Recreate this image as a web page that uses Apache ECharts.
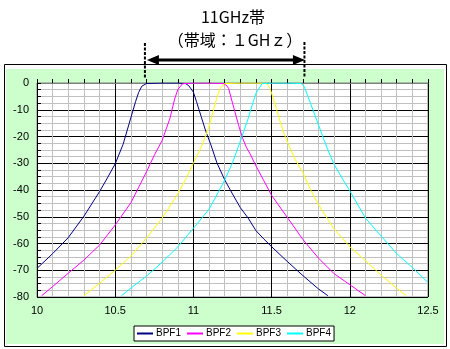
<!DOCTYPE html>
<html><head><meta charset="utf-8">
<script src="https://cdn.jsdelivr.net/npm/echarts@6/dist/echarts.min.js"></script>
<style>html,body{margin:0;padding:0;background:#fff}#c{width:450px;height:349px}</style>
</head><body><div id="c"></div>
<script>
// ---- data ----
const seriesNames = ['BPF1', 'BPF2', 'BPF3', 'BPF4'];
const bpf1 = [[10.0,-69.3],[10.1,-63.8],[10.2,-57.8],[10.3,-49.8],[10.4,-40.6],[10.45,-35.5],[10.5,-30.2],[10.55,-23],[10.6,-13],[10.63,-7],[10.65,-3.5],[10.67,-1.2],[10.7,-0.2],[10.8,0],[10.9,0],[10.95,-0.2],[10.97,-1],[11.0,-3.4],[11.02,-7],[11.05,-12.6],[11.08,-18.2],[11.11,-22.8],[11.15,-29.8],[11.2,-36.2],[11.25,-41.5],[11.3,-46.6],[11.35,-50.5],[11.4,-55.2],[11.45,-58.3],[11.5,-61.2],[11.6,-66.7],[11.7,-72],[11.8,-77],[11.86,-79.5]];
const bpf2 = [[10.03,-79.5],[10.1,-76.1],[10.2,-71.1],[10.3,-66.2],[10.4,-60.6],[10.5,-53.1],[10.6,-44.8],[10.65,-39],[10.7,-33.2],[10.75,-27],[10.8,-21.5],[10.85,-13.2],[10.88,-6],[10.9,-2.5],[10.93,-0.3],[11.0,0],[11.1,0],[11.19,-0.2],[11.21,-0.8],[11.225,-2],[11.245,-6.4],[11.265,-10.7],[11.29,-16],[11.315,-20.7],[11.34,-24.2],[11.36,-26.2],[11.4,-31],[11.45,-36.5],[11.5,-42],[11.6,-50.2],[11.7,-58.5],[11.8,-65.5],[11.9,-71.3],[12.0,-75.4],[12.1,-79.5]];
const bpf3 = [[10.3,-79.5],[10.4,-74.9],[10.5,-70],[10.6,-64.7],[10.7,-58],[10.8,-50.5],[10.9,-41.5],[10.95,-36],[11.0,-30],[11.05,-24],[11.1,-16.3],[11.15,-5.5],[11.17,-2],[11.2,-0.2],[11.3,0],[11.4,0],[11.47,-0.2],[11.49,-2],[11.51,-5.7],[11.53,-9.5],[11.555,-14.5],[11.58,-19],[11.6,-22],[11.65,-28.5],[11.7,-33.5],[11.75,-40],[11.8,-45.5],[11.9,-54.6],[12.0,-61.2],[12.1,-66.4],[12.2,-71.8],[12.3,-76.7],[12.36,-79.5]];
const bpf4 = [[10.54,-79.5],[10.6,-76.7],[10.7,-72.2],[10.8,-67],[10.9,-61.3],[11.0,-54.3],[11.1,-47.2],[11.15,-41.8],[11.2,-36.3],[11.25,-29.8],[11.3,-21.8],[11.35,-13.3],[11.38,-7.5],[11.4,-3.8],[11.44,-0.2],[11.5,0],[11.6,0],[11.69,-0.2],[11.71,-1.5],[11.745,-7],[11.78,-12.5],[11.8,-15.7],[11.83,-20.5],[11.86,-25],[11.9,-30.5],[11.95,-35.5],[12.0,-40.3],[12.1,-50.5],[12.2,-57.2],[12.3,-63.8],[12.4,-69],[12.5,-74.6]];
const seriesColors = ['#000080', '#FF00FF', '#FFFF00', '#00FFFF'];
const xRange = [10, 12.5];
const xStep = 0.5;
const yRange = [-80, 0];
const yStep = 10;
const bandEdges = [10.69, 11.71];
const titleLines = ['11GHz帯', '（帯域：１GHｚ）'];

const allData = [bpf1, bpf2, bpf3, bpf4];
const chart = echarts.init(document.getElementById('c'), null, {renderer: 'canvas'});
const labelFont = {fontFamily: 'Liberation Sans', fontSize: 11, color: '#000'};

chart.setOption({
  animation: false,
  backgroundColor: '#fff',
  title: [
    {text: titleLines[0], left: 228, top: 4, textAlign: 'center',
     textStyle: {fontFamily: 'Noto Sans CJK JP', fontSize: 16, fontWeight: 'normal', color: '#000'}},
    {text: titleLines[1], left: 230, top: 27, textAlign: 'center',
     textStyle: {fontFamily: 'Noto Sans CJK JP', fontSize: 16, fontWeight: 'normal', color: '#000'}}
  ],
  grid: {left: 37, top: 83, width: 391, height: 214, show: true, backgroundColor: '#fff',
         borderColor: '#808080', borderWidth: 1},
  legend: {
    data: seriesNames, left: 134, top: 326, orient: 'horizontal', icon: 'rect',
    backgroundColor: '#fff', borderColor: '#000', borderWidth: 1,
    padding: [2, 3, 2, 3], itemGap: 6, itemWidth: 16, itemHeight: 2,
    textStyle: {fontFamily: 'Liberation Sans', fontSize: 10, color: '#000', padding: [0, 0, 0, -2], lineHeight: 11}
  },
  xAxis: {
    type: 'value', min: xRange[0], max: xRange[1], interval: xStep, z: 2,
    axisLine: {show: true, lineStyle: {color: '#808080', width: 1}},
    axisTick: {show: true, inside: true, length: 4, lineStyle: {color: '#000'}},
    minorTick: {show: true, splitNumber: 5, length: 4, lineStyle: {color: '#000'}},
    axisLabel: Object.assign({margin: 8}, labelFont),
    splitLine: {show: true, lineStyle: {color: '#000', width: 1}},
    minorSplitLine: {show: true, lineStyle: {color: '#C0C0C0', width: 1}}
  },
  yAxis: {
    type: 'value', min: yRange[0], max: yRange[1], interval: yStep, z: 2,
    axisLine: {show: true, lineStyle: {color: '#000', width: 1}},
    axisTick: {show: true, inside: true, length: 4, lineStyle: {color: '#000'}},
    minorTick: {show: true, splitNumber: 4, length: 4, lineStyle: {color: '#000'}},
    axisLabel: Object.assign({margin: 8}, labelFont),
    splitLine: {show: true, lineStyle: {color: '#000', width: 1}},
    minorSplitLine: {show: true, lineStyle: {color: '#C0C0C0', width: 1}}
  },
  series: seriesNames.map((n, i) => ({
    name: n, type: 'line', data: allData[i], symbol: 'none', showSymbol: false,
    color: seriesColors[i], lineStyle: {color: seriesColors[i], width: 1}, z: 5
  }))
});

const xa = chart.convertToPixel({gridIndex: 0}, [bandEdges[0], 0])[0];
const xb = chart.convertToPixel({gridIndex: 0}, [bandEdges[1], 0])[0];
const yTop = chart.convertToPixel({gridIndex: 0}, [xRange[0], yRange[1]])[1];
const ay = 60;
chart.setOption({
  graphic: [
    {type: 'rect', z: -10, silent: true, shape: {x: 4.5, y: 64.5, width: 442, height: 282},
     style: {fill: '#fff', stroke: '#000', lineWidth: 1}},
    {type: 'rect', z: -9, silent: true, shape: {x: 6, y: 69, width: 438, height: 275},
     style: {fill: '#CCFFCC'}},
    {type: 'line', z: 50, silent: true, shape: {x1: xa, y1: 43, x2: xa, y2: yTop - 5},
     style: {stroke: '#000', lineWidth: 2, lineDash: [3, 1.5]}},
    {type: 'line', z: 50, silent: true, shape: {x1: xb, y1: 42, x2: xb, y2: yTop - 5},
     style: {stroke: '#000', lineWidth: 2, lineDash: [3, 1.5]}},
    {type: 'line', z: 50, silent: true, shape: {x1: xa + 8, y1: ay, x2: xb - 8, y2: ay},
     style: {stroke: '#000', lineWidth: 3}},
    {type: 'polygon', z: 50, silent: true, shape: {points: [[xa + 2, ay], [xa + 14, ay - 5], [xa + 14, ay + 5]]},
     style: {fill: '#000'}},
    {type: 'polygon', z: 50, silent: true, shape: {points: [[xb + 0.5, ay], [xb - 11.5, ay - 5], [xb - 11.5, ay + 5]]},
     style: {fill: '#000'}}
  ]
});
</script></body></html>
